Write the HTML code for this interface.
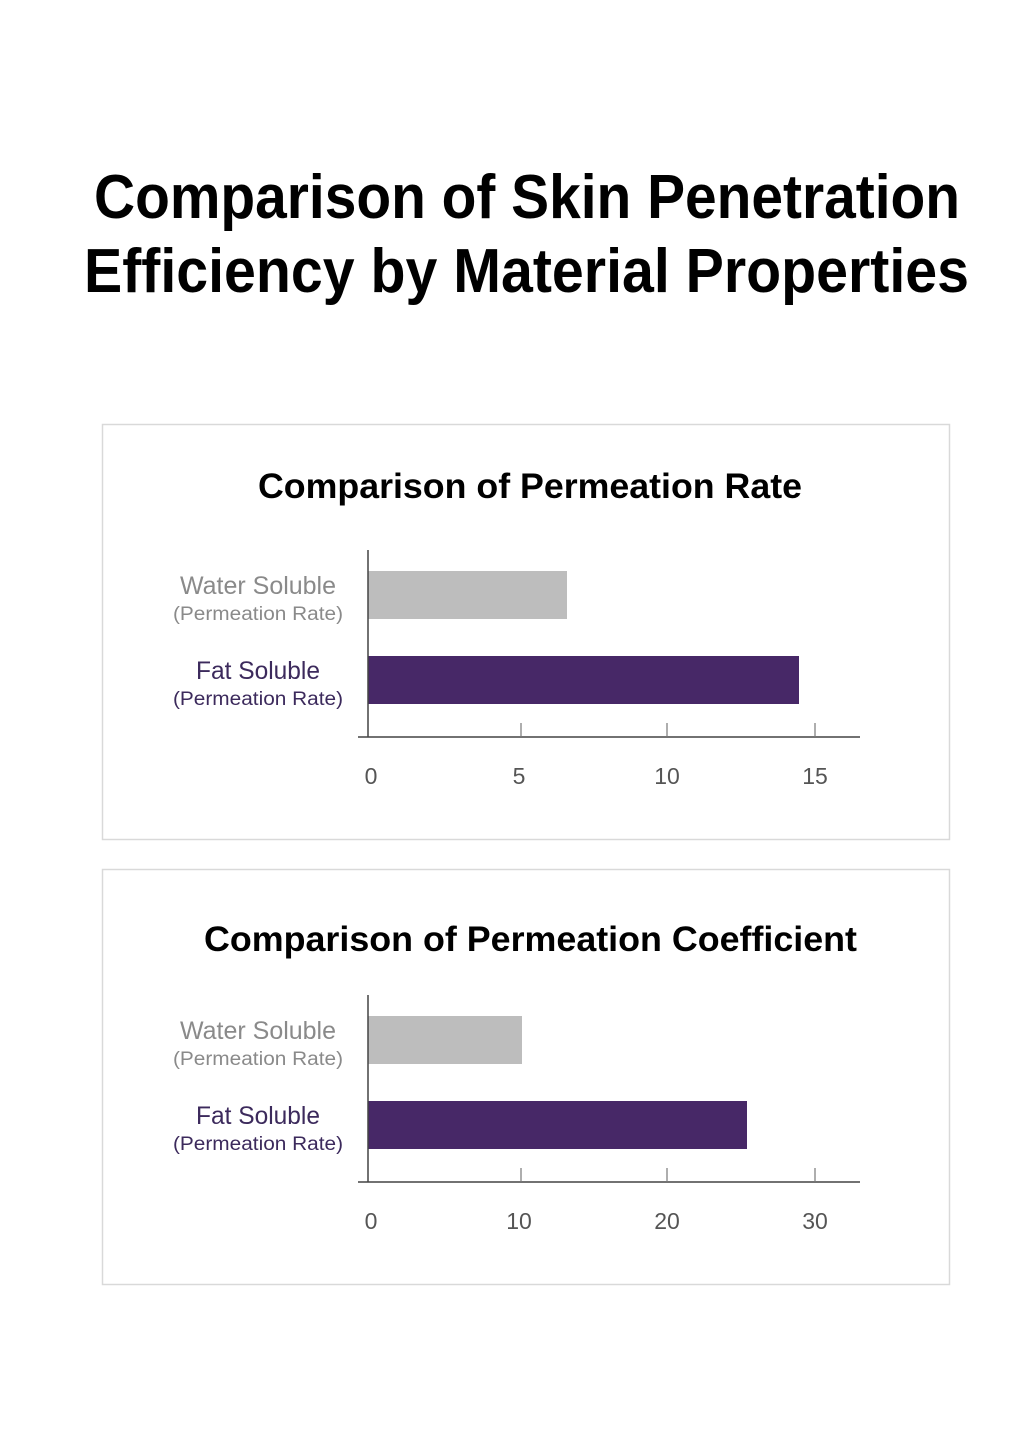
<!DOCTYPE html>
<html><head><meta charset="utf-8"><style>html,body{margin:0;padding:0;background:#fff}svg{display:block}</style></head>
<body>
<svg width="1024" height="1451" viewBox="0 0 1024 1451" xmlns="http://www.w3.org/2000/svg" font-family="Liberation Sans, sans-serif">
<rect width="1024" height="1451" fill="#fff"/>
<text x="94" y="218" font-size="62" font-weight="bold" fill="#000" textLength="866" lengthAdjust="spacingAndGlyphs">Comparison of Skin Penetration</text>
<text x="84" y="292" font-size="62" font-weight="bold" fill="#000" textLength="885" lengthAdjust="spacingAndGlyphs">Efficiency by Material Properties</text>

<g id="c1">
<rect x="102.5" y="424.5" width="847" height="415" fill="none" stroke="#d9d9d9" stroke-width="1.5"/>
<text x="258" y="498" font-size="35" font-weight="bold" fill="#000" textLength="544" lengthAdjust="spacingAndGlyphs">Comparison of Permeation Rate</text>
<rect x="368" y="571" width="199" height="48" fill="#bdbdbd"/>
<rect x="368" y="656" width="431" height="48" fill="#472867"/>
<line x1="368" y1="550" x2="368" y2="737" stroke="#444" stroke-width="1.5"/>
<line x1="358" y1="737" x2="860" y2="737" stroke="#444" stroke-width="1.5"/>
<g stroke="#777" stroke-width="1.2"><line x1="521" y1="723" x2="521" y2="737"/><line x1="667" y1="723" x2="667" y2="737"/><line x1="815" y1="723" x2="815" y2="737"/></g>
<g font-size="23" fill="#555" text-anchor="middle"><text x="371" y="784">0</text><text x="519" y="784">5</text><text x="667" y="784">10</text><text x="815" y="784">15</text></g>
<g text-anchor="middle">
<text x="258" y="594" font-size="25" fill="#8a8a8a" textLength="156" lengthAdjust="spacingAndGlyphs">Water Soluble</text>
<text x="258" y="620" font-size="19" fill="#8a8a8a" textLength="170" lengthAdjust="spacingAndGlyphs">(Permeation Rate)</text>
<text x="258" y="679" font-size="25" fill="#3c2a5c" textLength="124" lengthAdjust="spacingAndGlyphs">Fat Soluble</text>
<text x="258" y="705" font-size="19" fill="#3c2a5c" textLength="170" lengthAdjust="spacingAndGlyphs">(Permeation Rate)</text>
</g>
</g>

<g transform="translate(0,445)">
<rect x="102.5" y="424.5" width="847" height="415" fill="none" stroke="#d9d9d9" stroke-width="1.5"/>
<text x="204" y="506" font-size="35" font-weight="bold" fill="#000" textLength="653" lengthAdjust="spacingAndGlyphs">Comparison of Permeation Coefficient</text>
<rect x="368" y="571" width="154" height="48" fill="#bdbdbd"/>
<rect x="368" y="656" width="379" height="48" fill="#472867"/>
<line x1="368" y1="550" x2="368" y2="737" stroke="#444" stroke-width="1.5"/>
<line x1="358" y1="737" x2="860" y2="737" stroke="#444" stroke-width="1.5"/>
<g stroke="#777" stroke-width="1.2"><line x1="521" y1="723" x2="521" y2="737"/><line x1="667" y1="723" x2="667" y2="737"/><line x1="815" y1="723" x2="815" y2="737"/></g>
<g font-size="23" fill="#555" text-anchor="middle"><text x="371" y="784">0</text><text x="519" y="784">10</text><text x="667" y="784">20</text><text x="815" y="784">30</text></g>
<g text-anchor="middle">
<text x="258" y="594" font-size="25" fill="#8a8a8a" textLength="156" lengthAdjust="spacingAndGlyphs">Water Soluble</text>
<text x="258" y="620" font-size="19" fill="#8a8a8a" textLength="170" lengthAdjust="spacingAndGlyphs">(Permeation Rate)</text>
<text x="258" y="679" font-size="25" fill="#3c2a5c" textLength="124" lengthAdjust="spacingAndGlyphs">Fat Soluble</text>
<text x="258" y="705" font-size="19" fill="#3c2a5c" textLength="170" lengthAdjust="spacingAndGlyphs">(Permeation Rate)</text>
</g>
</g>
</svg>
</body></html>
